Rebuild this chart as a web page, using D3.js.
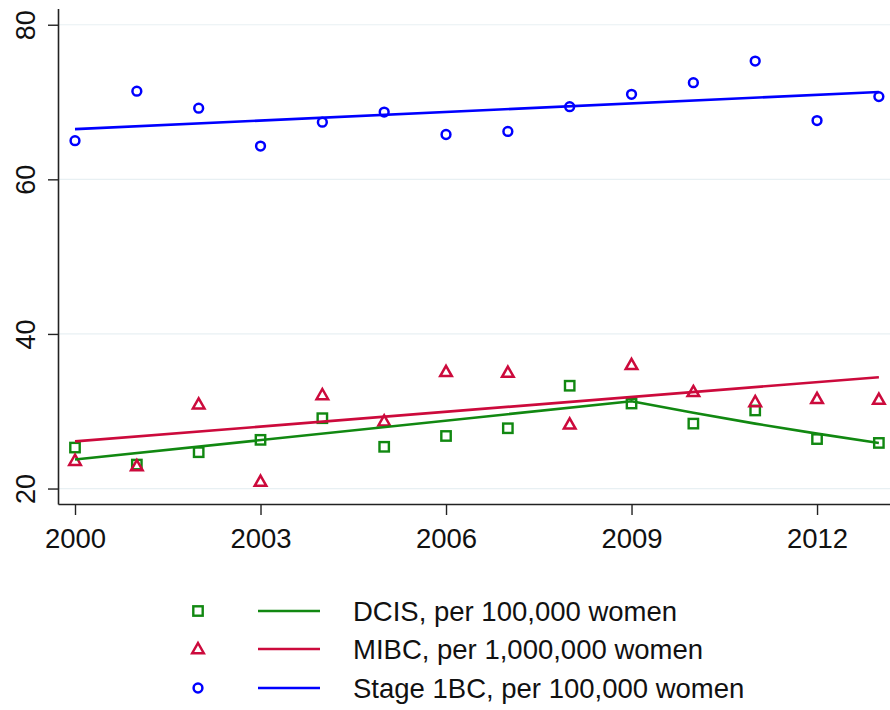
<!DOCTYPE html>
<html>
<head>
<meta charset="utf-8">
<script src="https://cdn.jsdelivr.net/npm/d3@7"></script>
<style>
  body { margin: 0; background: #fff; }
  text { font-family: "Liberation Sans", Arial, sans-serif; }
</style>
</head>
<body>
<svg id="chart" width="890" height="710"></svg>
<script>
// data
var years = [2000, 2001, 2002, 2003, 2004, 2005, 2006, 2007, 2008, 2009, 2010, 2011, 2012, 2013];
var dcis = [25.3, 23.1, 24.7, 26.3, 29.1, 25.4, 26.8, 27.8, 33.3, 31.0, 28.4, 30.1, 26.4, 25.9];
var mibc = [23.6, 22.9, 30.9, 20.9, 32.1, 28.7, 35.1, 35.0, 28.3, 36.0, 32.5, 31.2, 31.6, 31.5];
var stage1 = [65.0, 71.4, 69.2, 64.3, 67.4, 68.7, 65.8, 66.2, 69.4, 71.0, 72.5, 75.3, 67.6, 70.7];

// fitted lines (joinpoint for DCIS)
var dcisFitYears = [2000, 2009, 2010, 2011, 2012, 2013];
var dcisFit = [23.75, 31.3, 29.8, 28.4, 27.1, 25.9];
var mibcFitYears = [2000, 2013];
var mibcFit = [26.1, 34.4];
var stage1FitYears = [2000, 2013];
var stage1Fit = [66.5, 71.3];

var yTicks = [20, 40, 60, 80];
var xTicks = [2000, 2003, 2006, 2009, 2012];

var labels = ["DCIS, per 100,000 women", "MIBC, per 1,000,000 women", "Stage 1BC, per 100,000 women"];
var colors = ["#118811", "#cc0a3c", "#0000ff"];
var shapes = ["square", "triangle", "circle"];

var svg = d3.select("#chart");

var dims = { left: 58, right: 890, top: 8.5, bottom: 504 };

var xScale = d3.scaleLinear()
    .domain([1999.725, 2013.18])
    .range([dims.left, dims.right]);

var yScale = d3.scaleLinear()
    .domain([18, 82.1])
    .range([dims.bottom, dims.top]);

//Gridlines
svg.append("g")
    .selectAll("line")
    .data(yTicks)
    .enter()
    .append("line")
    .attr("x1", dims.left)
    .attr("x2", dims.right)
    .attr("y1", d => yScale(d))
    .attr("y2", d => yScale(d))
    .attr("stroke", "#e8f0f3")
    .attr("stroke-width", 1.2);

//Axes
var yAxis = svg.append("g")
    .attr("transform", `translate(${dims.left},0)`)
    .call(d3.axisLeft(yScale).tickValues(yTicks).tickSize(10).tickSizeOuter(0));
yAxis.select(".domain").attr("stroke", "#222").attr("stroke-width", 1.6);
yAxis.selectAll(".tick line").attr("stroke", "#222").attr("stroke-width", 1.4);
yAxis.selectAll(".tick text")
    .attr("transform", "rotate(-90)")
    .attr("x", 0)
    .attr("y", -23)
    .attr("dy", 0)
    .attr("text-anchor", "middle")
    .attr("font-size", 27)
    .attr("fill", "#111");

var xAxis = svg.append("g")
    .attr("transform", `translate(0,${dims.bottom})`)
    .call(d3.axisBottom(xScale).tickValues(xTicks).tickFormat(d3.format("d")).tickSize(11).tickPadding(13).tickSizeOuter(0));
xAxis.select(".domain").attr("stroke", "#222").attr("stroke-width", 1.6);
xAxis.selectAll(".tick line").attr("stroke", "#222").attr("stroke-width", 1.4);
xAxis.selectAll(".tick text").attr("font-size", 27.5).attr("fill", "#111");

// marker drawing
function drawMarker(g, shape, color) {
    if (shape === "circle") {
        g.append("circle").attr("r", 4.4)
            .attr("fill", "none").attr("stroke", color).attr("stroke-width", 2.5);
    } else if (shape === "square") {
        g.append("rect").attr("x", -4.7).attr("y", -4.7).attr("width", 9.4).attr("height", 9.4)
            .attr("fill", "none").attr("stroke", color).attr("stroke-width", 2.4);
    } else {
        g.append("path").attr("d", "M0,-6L5.8,4.2L-5.8,4.2Z")
            .attr("fill", "none").attr("stroke", color).attr("stroke-width", 2.5)
            .attr("stroke-linejoin", "miter");
    }
}

var line = d3.line().x(d => xScale(d[0])).y(d => yScale(d[1]));

var series = [
    { values: dcis, fx: dcisFitYears, fy: dcisFit },
    { values: mibc, fx: mibcFitYears, fy: mibcFit },
    { values: stage1, fx: stage1FitYears, fy: stage1Fit }
];

// draw points first, then fit lines on top
series.forEach((s, i) => {
    var pts = svg.append("g");
    years.forEach((yr, j) => {
        var g = pts.append("g").attr("transform", `translate(${xScale(yr)},${yScale(s.values[j])})`);
        drawMarker(g, shapes[i], colors[i]);
    });
});
series.forEach((s, i) => {
    svg.append("path")
        .datum(s.fx.map((x, j) => [x, s.fy[j]]))
        .attr("fill", "none")
        .attr("stroke", colors[i])
        .attr("stroke-width", 2.6)
        .attr("stroke-linejoin", "round")
        .attr("d", line);
});

//Legend
var legendY = [611, 649, 688];
var legend = svg.append("g");
labels.forEach((lab, i) => {
    var g = legend.append("g").attr("transform", `translate(0,${legendY[i]})`);
    drawMarker(g.append("g").attr("transform", "translate(198,0)"), shapes[i], colors[i]);
    g.append("line").attr("x1", 258).attr("x2", 320).attr("y1", 0).attr("y2", 0)
        .attr("stroke", colors[i]).attr("stroke-width", 2.6);
    g.append("text").attr("x", 353).attr("y", 0).attr("dy", "0.35em")
        .attr("font-size", 27.5).attr("fill", "#111").text(lab);
});
</script>
</body>
</html>
